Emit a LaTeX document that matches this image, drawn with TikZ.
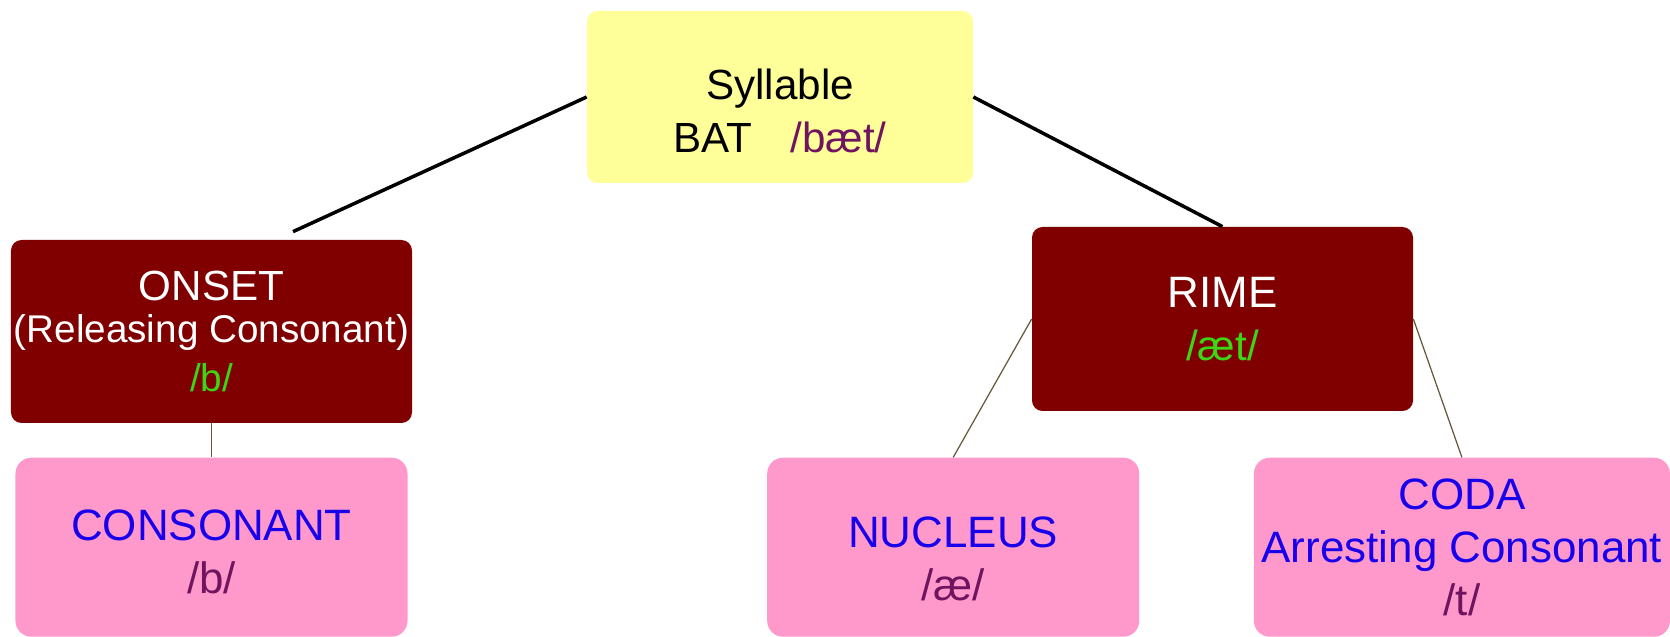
\documentclass[tikz,border=0pt]{standalone}
\usepackage{fontspec}
\setmainfont{Liberation Sans}
\usepackage{tikz}
\usepackage{xcolor}
\usetikzlibrary{positioning, calc}
\definecolor{cYellow}{RGB}{255,255,153}
\definecolor{cMaroon}{RGB}{128,0,0}
\definecolor{cPink}{RGB}{255,153,204}
\definecolor{cPurple}{RGB}{112,20,96}
\definecolor{cBlue}{RGB}{25,0,235}
\definecolor{cLime}{RGB}{60,215,20}
\definecolor{cTie}{RGB}{100,88,60}
\tikzset{
	sylbox/.style ={rectangle, rounded corners=6pt, minimum width=7.72cm, minimum height=3.44cm, align=center, fill=cYellow, inner sep=0pt, font=\fontsize{24}{30}\selectfont},
	rimebox/.style={rectangle, rounded corners=6pt, minimum height=3.66cm, align=center, fill=cMaroon, text=white, inner sep=0pt},
	partbox/.style={rectangle, rounded corners=9pt, minimum height=3.58cm, align=center, fill=cPink, text=cBlue, inner sep=0pt, font=\fontsize{25}{30}\selectfont},
	tiebar/.style ={line width=2pt, black},
	subtie/.style ={line width=0.7pt, cTie},
}
\begin{document}
\begin{tikzpicture}
	\useasboundingbox (0,0) rectangle (33.4,-12.74);
	\node[sylbox] (syl) at (15.6,-1.94) {\rule{0pt}{1.16cm}Syllable\\ BAT\hspace{0.9em}\textcolor{cPurple}{/bæt/}};
	\node[rimebox, minimum width=8.02cm, font=\fontsize{22}{24}\selectfont] (onset) at (4.23,-6.63)
	{{\fontsize{24}{24}\selectfont ONSET}\\[0pt] (Releasing Consonant)\\[4pt] \textcolor{cLime}{/b/}};
	\node[rimebox, minimum width=7.62cm, minimum height=3.68cm, font=\fontsize{25}{30}\selectfont] (rime) at (24.45,-6.38)
	{RIME\\ \textcolor{cLime}{\fontsize{24}{30}\selectfont /æt/}};
	\node[partbox, minimum width=7.84cm, below=0.68cm of onset] (cons) {\rule{0pt}{0.8cm}CONSONANT\\ \textcolor{cPurple}{/b/}};
	\node[partbox, minimum width=7.44cm, right=7.18cm of cons] (nuc) {\rule{0pt}{1.07cm}NUCLEUS\\ \textcolor{cPurple}{/æ/}};
	\node[partbox, minimum width=8.32cm, right=2.28cm of nuc] (coda) {CODA\\ Arresting Consonant\\ \textcolor{cPurple}{/t/}};
	\coordinate (onsettie) at ($(onset.north)+(1.63,0.16)$);
	\draw[tiebar] (syl.west) -- (onsettie);
	\draw[tiebar] (syl.east) -- (rime.north);
	\draw[subtie] (onset.south) -- (cons.north);
	\draw[subtie] (rime.west) -- (nuc.north);
	\draw[subtie] (rime.east) -- (coda.north);
\end{tikzpicture}
\end{document}
